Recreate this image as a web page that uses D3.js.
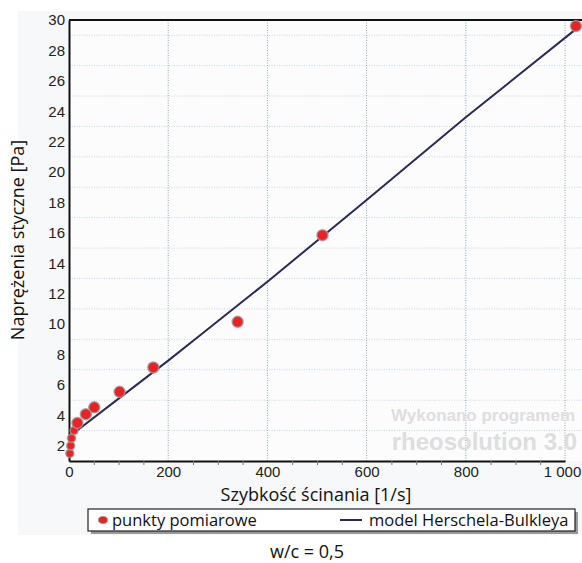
<!DOCTYPE html>
<meta charset="utf-8">
<head>
<script src="https://cdn.jsdelivr.net/npm/d3@7"></script>
<style>
body { margin: 0; background: #fff; }
svg text { font-family: "Liberation Sans", Arial, sans-serif; }
.title { font-family: "Open Sans", "Noto Sans", sans-serif; font-size: 18px; fill: #111; }
.leg { font-family: "Open Sans", "Noto Sans", sans-serif; font-size: 16.5px; fill: #111; }
</style>
</head>
<body>
<div id="chart"></div>
<script>
// measured points (shear rate [1/s], stress [Pa])
var rates = [1.7, 3.4, 5.1, 10.2, 17, 34, 51, 102, 170, 340, 511, 1022];
var stress = [1.5, 2.0, 2.5, 3.0, 3.5, 4.08, 4.53, 5.55, 7.15, 10.15, 15.85, 29.6];

// Herschel-Bulkley curve
var modelRates = [0, 100, 200, 265, 400, 600, 800, 1022];
var modelStress = [2.59, 5.1, 7.6, 9.28, 12.79, 18.16, 23.6, 29.4];

var yTicks = [2, 4, 6, 8, 10, 12, 14, 16, 18, 20, 22, 24, 26, 28, 30];
var yGrid = [3, 5, 7, 9, 11, 13, 15, 17, 19, 21, 23, 25, 27, 29];
var xTicks = [0, 200, 400, 600, 800, 1000];
var xMinor = [50, 100, 150, 250, 300, 350, 450, 500, 550, 650, 700, 750, 850, 900, 950, 1050];

var W = 582, H = 563;
var margin = {top: 20, right: 0, bottom: 102, left: 69};
var width = W - margin.left - margin.right,
    height = H - margin.top - margin.bottom;

var svg = d3.select("#chart").append("svg")
    .attr("width", W).attr("height", H);

// light panel behind the chart
svg.append("rect")
    .attr("x", 18).attr("y", 11).attr("width", W - 18).attr("height", 524)
    .attr("fill", "#f7f8fa");

var g = svg.append("g")
    .attr("transform", "translate(" + margin.left + "," + margin.top + ")");

var x = d3.scaleLinear().domain([0, 1000]).range([0, 496]);
var y = d3.scaleLinear().domain([1, 30]).range([height, 0]);

g.append("rect").attr("width", width).attr("height", height).attr("fill", "#fcfcfd");

// grid
g.selectAll(".hgrid").data(yGrid).enter().append("line")
    .attr("x1", 0).attr("x2", width)
    .attr("y1", function(d) { return y(d); }).attr("y2", function(d) { return y(d); })
    .attr("stroke", "#c4d6e2").attr("stroke-width", 1).attr("stroke-dasharray", "1,1.5");
g.selectAll(".vgrid").data(xTicks.slice(1)).enter().append("line")
    .attr("y1", 0).attr("y2", height)
    .attr("x1", function(d) { return x(d); }).attr("x2", function(d) { return x(d); })
    .attr("stroke", "#8ea6b6").attr("stroke-width", 1).attr("stroke-dasharray", "1,1.5");

// watermark
g.append("text").attr("x", x(1000) + 10).attr("y", y(3.6))
    .attr("text-anchor", "end").attr("font-weight", "bold").attr("font-size", 17)
    .attr("fill", "#dedede").text("Wykonano programem");
g.append("text").attr("x", x(1000) + 12).attr("y", y(1.75))
    .attr("text-anchor", "end").attr("font-weight", "bold").attr("font-size", 24)
    .attr("fill", "#dedede").text("rheosolution 3.0");

// axes
var xAxis = g.append("g").attr("transform", "translate(0," + height + ")")
    .call(d3.axisBottom(x).tickValues(xTicks).tickSize(0).tickPadding(5)
      .tickFormat(function(d) { return d == 1000 ? "1 000" : d; }));
xAxis.select(".domain").attr("stroke", "#111").attr("stroke-width", 2);
xAxis.selectAll("text").attr("font-size", 15).attr("fill", "#222");
// keep the last label inside the window
xAxis.selectAll("text").filter(function(d) { return d == 1000; }).attr("dx", -3);
g.append("g").attr("transform", "translate(0," + height + ")")
    .call(d3.axisBottom(x).tickValues(xMinor).tickSize(4).tickFormat(""))
    .call(function(s) { s.select(".domain").remove(); s.selectAll("line").attr("stroke", "#777"); });

var yAxis = g.append("g")
    .call(d3.axisLeft(y).tickValues(yTicks).tickSize(0).tickPadding(4));
yAxis.select(".domain").attr("stroke", "#111").attr("stroke-width", 2);
yAxis.selectAll("text").attr("font-size", 15).attr("fill", "#222");

g.append("line").attr("x1", 0).attr("x2", width).attr("y1", 0).attr("y2", 0)
    .attr("stroke", "#111").attr("stroke-width", 2);

// model line
var line = d3.line()
    .x(function(d, i) { return x(modelRates[i]); })
    .y(function(d, i) { return y(modelStress[i]); });
g.append("path").datum(modelRates).attr("d", line)
    .attr("fill", "none").attr("stroke", "#2b2a55").attr("stroke-width", 2);

// points
g.selectAll(".pt").data(rates).enter().append("circle")
    .attr("cx", function(d) { return x(d); })
    .attr("cy", function(d, i) { return y(stress[i]); })
    .attr("r", function(d) { return d < 15 ? 4 : 5.5; })
    .attr("fill", "#ee2020")
    .attr("stroke", "#999").attr("stroke-opacity", 0.8).attr("stroke-width", 1.5);

// titles
svg.append("text").attr("class", "title")
    .attr("x", 316).attr("y", 501).attr("text-anchor", "middle")
    .text("Szybkość ścinania [1/s]");
svg.append("text").attr("class", "title")
    .attr("transform", "translate(24,240) rotate(-90)").attr("text-anchor", "middle")
    .text("Naprężenia styczne [Pa]");

// legend
svg.append("rect").attr("x", 91).attr("y", 512).attr("width", 487).attr("height", 22)
    .attr("fill", "#999");
svg.append("rect").attr("x", 88).attr("y", 509).attr("width", 487).attr("height", 22)
    .attr("fill", "#fff").attr("stroke", "#222").attr("stroke-width", 1.2);
svg.append("ellipse").attr("cx", 103).attr("cy", 520).attr("rx", 4.5).attr("ry", 3.5)
    .attr("fill", "#ee2020").attr("stroke", "#999");
svg.append("text").attr("class", "leg").attr("x", 112).attr("y", 526)
    .text("punkty pomiarowe");
svg.append("line").attr("x1", 340).attr("x2", 362).attr("y1", 520).attr("y2", 520)
    .attr("stroke", "#2b2a55").attr("stroke-width", 2);
svg.append("text").attr("class", "leg").attr("x", 369).attr("y", 526)
    .text("model Herschela-Bulkleya");

svg.append("text").attr("class", "title").attr("font-size", 19)
    .attr("x", 307).attr("y", 558).attr("text-anchor", "middle")
    .text("w/c = 0,5");
</script>
</body>
